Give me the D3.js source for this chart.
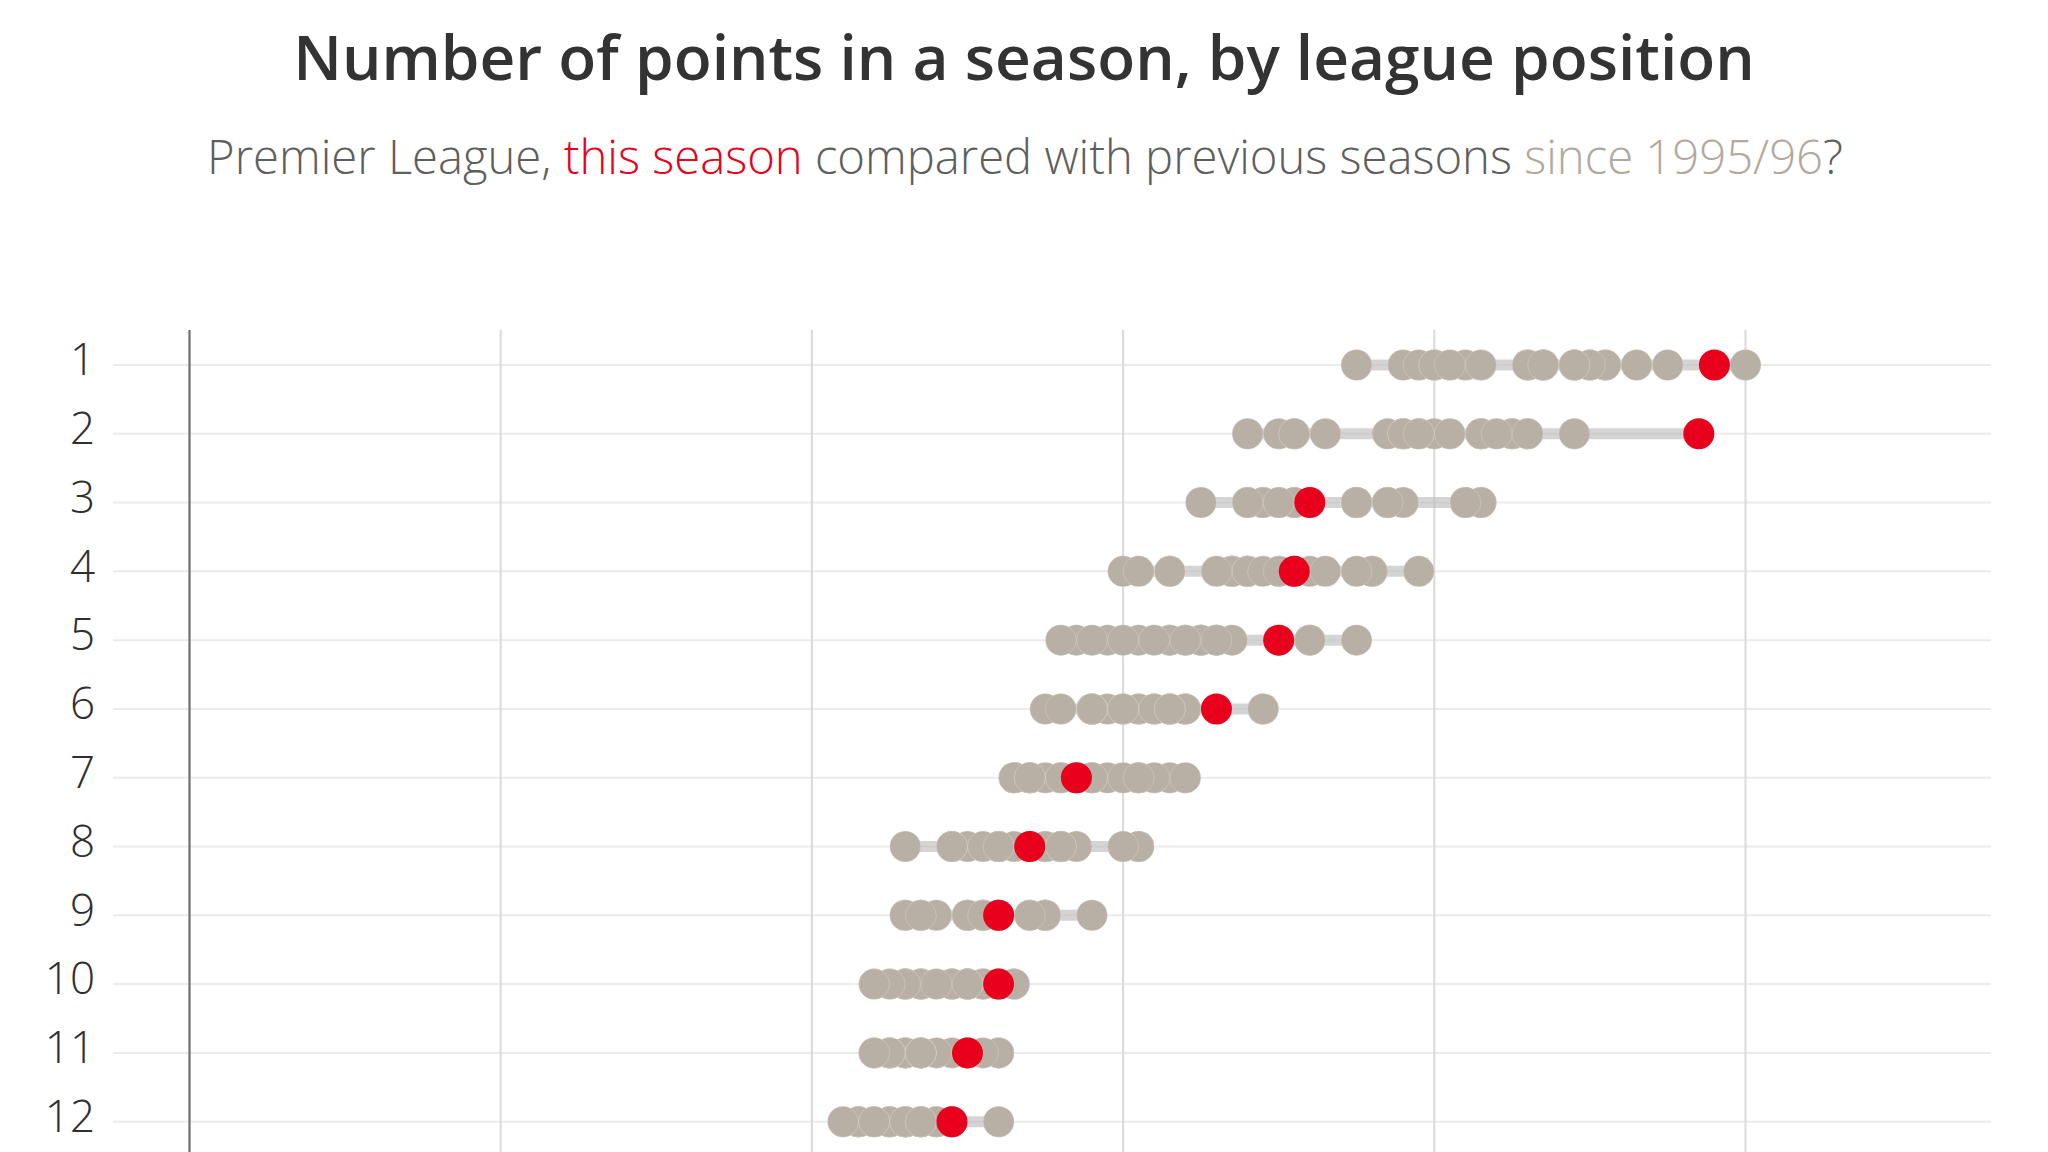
<!DOCTYPE html>
<html>
<head>
<meta charset="utf-8">
<script src="https://cdn.jsdelivr.net/npm/d3@7"></script>
<style>
  html, body { margin: 0; padding: 0; background: #fff; overflow: hidden; }
  svg { display: block; }
  text { font-family: "Open Sans", "Noto Sans", sans-serif; }
</style>
</head>
<body>
<svg id="chart" width="2048" height="1152"></svg>
<script>
// ---- Data ----
const positions = [1, 2, 3, 4, 5, 6, 7, 8, 9, 10, 11, 12];
const xTicks = [0, 20, 40, 60, 80, 100];
// this season (2018/19) points by league position
const thisSeason = [98, 97, 72, 71, 70, 66, 57, 54, 52, 52, 50, 49];
// previous seasons 1995/96 .. 2017/18
const pastSeasons = ["1995/96","1996/97","1997/98","1998/99","1999/00","2000/01","2001/02","2002/03",
  "2003/04","2004/05","2005/06","2006/07","2007/08","2008/09","2009/10","2010/11","2011/12",
  "2012/13","2013/14","2014/15","2015/16","2016/17","2017/18"];
const pos1  = [82,75,78,79,91,80,87,83,90,95,91,89,87,90,86,80,89,89,86,87,81,93,100];
const pos2  = [78,68,77,78,73,70,80,78,79,83,83,83,85,86,85,71,89,78,84,79,71,86,81];
const pos3  = [71,68,65,75,69,69,77,69,75,77,82,68,83,83,75,71,70,75,82,75,70,78,77];
const pos4  = [63,68,63,67,67,68,71,67,60,61,67,68,76,72,70,68,69,73,79,70,66,76,75];
const pos5  = [63,61,59,57,65,66,66,64,56,58,65,60,65,63,67,62,65,72,72,64,66,75,70];
const pos6  = [61,59,58,55,58,61,64,60,56,58,63,58,60,62,64,58,64,63,69,62,63,69,63];
const pos7  = [61,57,57,54,58,57,53,59,53,55,58,56,58,53,63,54,56,61,64,60,62,61,54];
const pos8  = [61,56,56,52,55,54,50,52,53,52,56,55,57,51,61,49,52,49,56,56,60,46,49];
const pos9  = [58,47,55,51,55,52,50,51,52,52,55,54,55,51,50,48,52,46,50,54,51,46,47];
const pos10 = [51,46,53,49,53,52,46,50,50,47,51,52,49,50,50,47,47,46,49,48,50,45,44];
const pos11 = [50,46,52,47,52,51,45,49,48,46,50,50,46,45,47,47,47,44,45,47,47,45,44];
const pos12 = [43,46,48,46,52,49,45,49,47,45,48,46,43,45,46,46,47,43,42,47,47,44,44];
const pastByPosition = [pos1,pos2,pos3,pos4,pos5,pos6,pos7,pos8,pos9,pos10,pos11,pos12];

// ---- Layout ----
const svg = d3.select("#chart");
const W = 2048, H = 1152;
const x = d3.scaleLinear().domain([0, 100]).range([189.5, 1745.5]);
const y = d3.scaleLinear().domain([1, 12]).range([365, 1121.7]);

const GREY = "#b9b0a5", RED = "#e8001c";

// Title
svg.append("text")
  .attr("x", 1024).attr("y", 80)
  .attr("text-anchor", "middle")
  .attr("font-size", 62.2).attr("font-weight", 600)
  .attr("fill", "#333333")
  .text("Number of points in a season, by league position");

// Subtitle
const sub = svg.append("text")
  .attr("x", 1025).attr("y", 174)
  .attr("text-anchor", "middle")
  .attr("font-size", 47.2).attr("font-weight", 300)
  .attr("fill", "#5e5e5e");
sub.append("tspan").text("Premier League, ");
sub.append("tspan").attr("fill", RED).text("this season");
sub.append("tspan").text(" compared with previous seasons ");
sub.append("tspan").attr("fill", "#b3a89b").text("since 1995/96");
sub.append("tspan").text("?");

// Row gridlines
svg.append("g").selectAll("line").data(positions).join("line")
  .attr("x1", 113).attr("x2", 1991)
  .attr("y1", d => y(d)).attr("y2", d => y(d))
  .attr("stroke", "#ebebeb").attr("stroke-width", 2);

// Vertical gridlines
svg.append("g").selectAll("line").data(xTicks.filter(d => d > 0)).join("line")
  .attr("x1", d => x(d)).attr("x2", d => x(d))
  .attr("y1", 330).attr("y2", H + 10)
  .attr("stroke", "#d9d9d9").attr("stroke-width", 2);

// Zero axis line
svg.append("line")
  .attr("x1", x(0)).attr("x2", x(0))
  .attr("y1", 330).attr("y2", H + 10)
  .attr("stroke", "#6e6e6e").attr("stroke-width", 2.2);

// Position labels (left axis)
const yAxis = d3.axisLeft(y).tickValues(positions).tickSize(0).tickPadding(0).tickFormat(d3.format("d"));
const ag = svg.append("g").attr("transform", "translate(95,0)").call(yAxis);
ag.select(".domain").remove();
ag.selectAll("text")
  .attr("font-family", "'Open Sans', sans-serif")
  .attr("font-size", 44).attr("font-weight", 300)
  .attr("fill", "#2e2e2e").attr("dy", "0.22em");

// Range bars
const rows = positions.map((p, i) => {
  const all = pastByPosition[i].concat([thisSeason[i]]);
  return { pos: p, min: d3.min(all), max: d3.max(all), past: pastByPosition[i], cur: thisSeason[i] };
});
svg.append("g").selectAll("line").data(rows).join("line")
  .attr("x1", d => x(d.min)).attr("x2", d => x(d.max))
  .attr("y1", d => y(d.pos)).attr("y2", d => y(d.pos))
  .attr("stroke", "#bdbdbd").attr("stroke-opacity", 0.65).attr("stroke-width", 11);

// Past season dots
const pastDots = rows.flatMap(r => r.past.map((v, j) => ({ pos: r.pos, v, season: pastSeasons[j] })));
svg.append("g").selectAll("circle").data(pastDots).join("circle")
  .attr("cx", d => x(d.v)).attr("cy", d => y(d.pos)).attr("r", 15.5)
  .attr("fill", GREY).attr("stroke", "#ffffff").attr("stroke-opacity", 0.2).attr("stroke-width", 1);

// This season dots
svg.append("g").selectAll("circle").data(rows).join("circle")
  .attr("cx", d => x(d.cur)).attr("cy", d => y(d.pos)).attr("r", 15.5)
  .attr("fill", RED);
</script>
</body>
</html>
